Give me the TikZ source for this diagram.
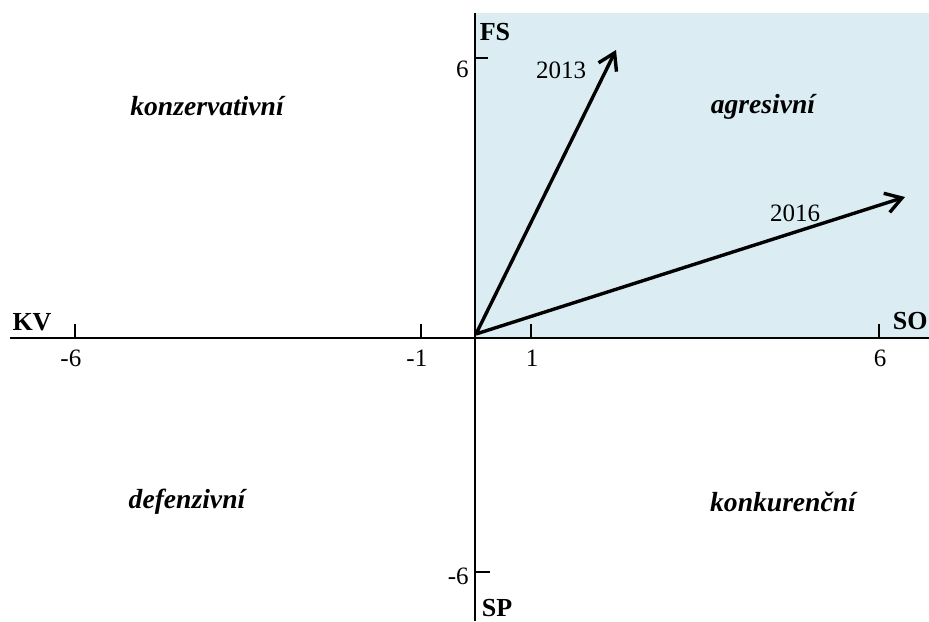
\documentclass[tikz,border=0pt]{standalone}
\usepackage{fontspec}
\setmainfont{Liberation Serif}
\usetikzlibrary{positioning,arrows.meta}
\definecolor{quadblue}{RGB}{219,236,243}

\begin{document}
\begin{tikzpicture}[x=0.5pt,y=-0.5pt,
		axisline/.style={line width=0.9pt},
		vecline/.style={line width=1.7pt,-{Straight Barb[length=8pt,width=10pt]}},
		ticklab/.style={font=\fontsize{12.5}{14}\selectfont,inner sep=0pt},
		axislab/.style={font=\bfseries\fontsize{13}{15}\selectfont,inner sep=0pt},
		quadlab/.style={font=\bfseries\itshape\fontsize{13.8}{16}\selectfont,inner sep=0pt}]

			\useasboundingbox (0,0) rectangle (929,621);

			% shaded quadrant
			\fill[quadblue] (475,13) rectangle (929,338);

			\coordinate (O) at (475,338);
			\coordinate (XL) at (10,338);
			\coordinate (XR) at (929,338);
			\coordinate (YT) at (475,13);
			\coordinate (YB) at (475,621);

			\draw[axisline] (XL) -- (XR);
			\draw[axisline] (YT) -- (YB);

			% ticks
			\foreach \x in {75, 421, 531, 879}
			{
					\draw[axisline] (\x,324) -- (\x,338);
			}
			\draw[axisline] (475,58) -- (488,58);
			\draw[axisline] (475,572) -- (490,572);

			\node[ticklab] (xm6) at (75,358) {\llap{-}6};
			\node[ticklab] (xm1) at (421,358) {\llap{-}1};
			\node[ticklab] (xp1) at (532,358) {1};
			\node[ticklab] (xp6) at (880,358) {6};
			\node[ticklab, anchor=east] (yp6) at (469,69) {6};
			\node[ticklab, anchor=east] (ym6) at (469,576) {-6};

			\node[axislab] (FS) at (495,32) {FS};
			\node[axislab] (SP) at (497,608) {SP};
			\node[axislab] (KV) at (32,322) {KV};
			\node[axislab, anchor=east] (SO) at (928,321) {SO};

			% vectors
			\coordinate (V0) at (476,334);
			\coordinate (V13) at (616,50);
			\coordinate (V16) at (905,197);
			\draw[vecline] (V0) -- (V13);
			\draw[vecline] (V0) -- (V16);
			\node[ticklab] (L13) at (561,70) {2013};
			\node[ticklab] (L16) at (795,213) {2016};

			% quadrants
			\node[quadlab] (Q1) at (207,106) {konzervativní};
			\node[quadlab] (Q2) at (763,107) {agresivní};
			\node[quadlab] (Q3) at (187,502) {defenzivní};
			\node[quadlab] (Q4) at (783,502) {konkurenční};

		\end{tikzpicture}
\end{document}
